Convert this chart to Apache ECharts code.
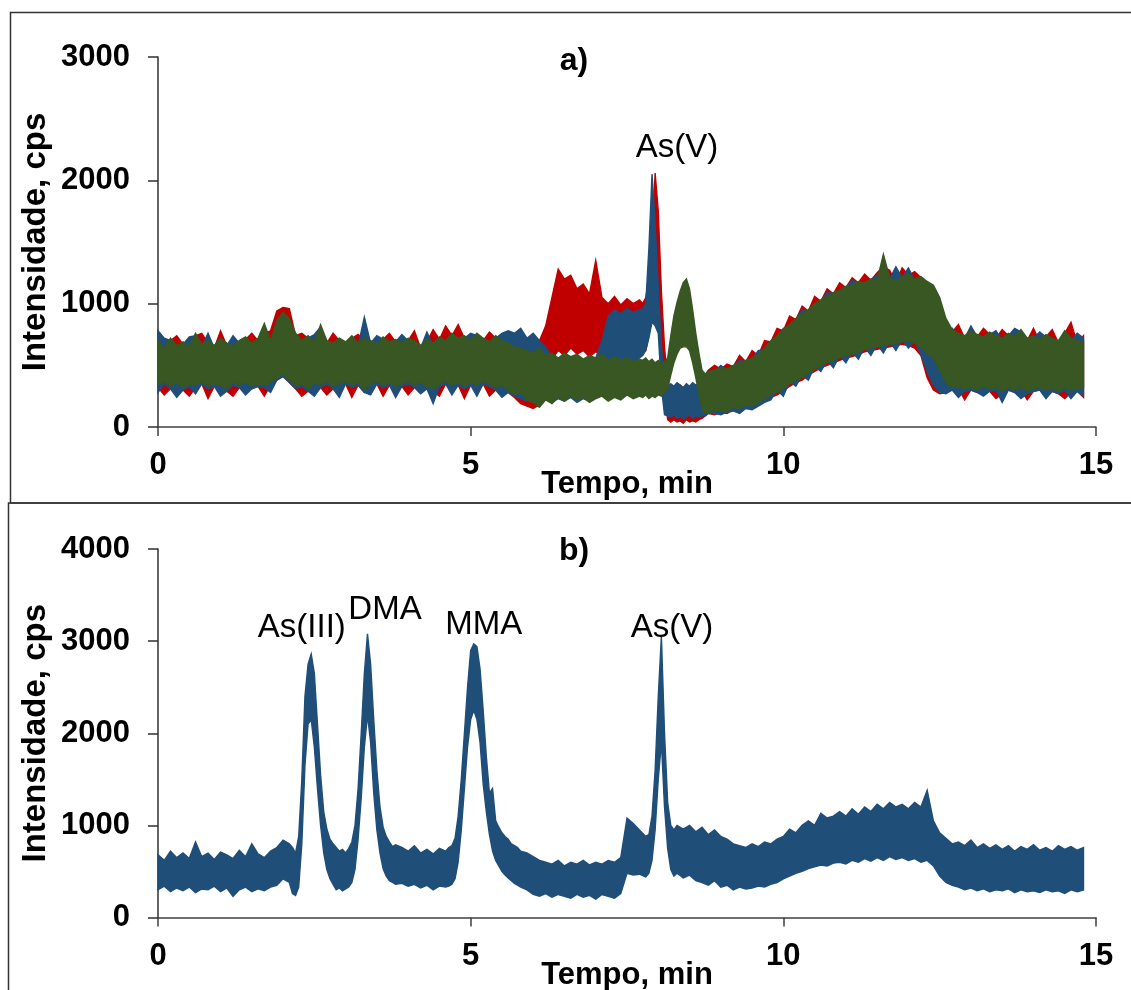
<!DOCTYPE html>
<html><head><meta charset="utf-8">
<script src="https://cdn.jsdelivr.net/npm/echarts@6/dist/echarts.min.js"></script>
<style>html,body{margin:0;padding:0;background:#fff}#c{width:1131px;height:990px}</style>
</head><body><div id="c"></div>
<script>
// ---------- Panel a) : time grid (min) ----------
const T_A = [
0,0.1,0.2,0.3,0.4,0.5,0.6,0.7,0.8,0.9,
1,1.1,1.2,1.3,1.4,1.5,1.6,1.7,1.8,1.9,
2,2.1,2.2,2.3,2.4,2.5,2.6,2.7,2.8,2.9,
3,3.1,3.2,3.3,3.4,3.5,3.6,3.7,3.8,3.9,
4,4.1,4.2,4.3,4.4,4.5,4.6,4.7,4.8,4.9,
5,5.1,5.2,5.3,5.4,5.5,5.6,5.7,5.8,5.9,
6,6.1,6.2,6.3,6.4,6.5,6.6,6.7,6.8,6.9,
7,7.1,7.2,7.3,7.4,7.5,7.6,7.7,
7.75,7.8,7.85,7.9,7.95,8,8.05,8.1,8.15,8.2,8.25,8.3,8.35,8.4,8.45,8.5,8.55,8.6,8.65,8.7,8.75,8.8,
8.9,9,9.1,9.2,9.3,9.4,9.5,9.6,9.7,9.8,
9.9,10,10.1,10.2,10.3,10.4,10.5,10.6,10.7,10.8,
10.9,11,11.1,11.2,11.3,11.4,11.5,11.6,
11.7,11.8,11.9,12,12.1,12.2,12.3,12.4,12.5,12.6,
12.7,12.8,12.9,13,13.1,13.2,13.3,13.4,13.5,13.6,
13.7,13.8,13.9,14,14.1,14.2,14.3,14.4,14.5,14.6,14.7,14.8];

// red trace: upper / lower edge of the noise band (cps)
const RED_UP = [
760,620,700,740,670,630,740,760,680,640, 780,660,630,680,710,760,700,760,780,940,
970,960,740,760,720,670,760,680,760,700, 670,720,750,700,680,650,710,760,690,660,
700,780,640,690,790,710,820,740,830,720, 680,740,700,770,720,680,660,630,620,600,
580,700,820,1050,1280,1200,1230,1120,1160,1080, 1350,1050,1000,1060,990,1040,1000,1030,
1000,1050,1200,1500,2060,1750,1100,650,350,320,330,300,340,310,330,300,340,320,350,380,420,460,
500,470,510,490,580,530,620,580,700,690, 800,780,900,870,980,940,1060,1020,1120,1080,
1170,1130,1210,1170,1240,1190,1250,1300, 1270,1170,1290,1230,1260,1210,1100,900,800,780,
770,830,720,760,730,800,750,720,790,740, 710,770,700,800,690,730,790,680,760,850,680,740];
const RED_LO = [
320,260,310,340,300,250,320,350,230,330, 320,290,250,320,350,310,330,250,340,380,
410,360,310,250,290,340,320,260,310,330, 350,240,340,280,330,350,250,340,310,330,
260,320,340,310,290,250,350,320,340,230, 340,320,350,250,300,320,280,240,190,170,
150,180,300,550,620,580,640,590,620,570, 610,580,620,590,610,600,620,600,
600,620,750,900,1150,900,600,300,60,40,60,40,50,30,60,40,50,40,60,70,90,110,
100,120,110,140,130,160,150,180,210,240, 260,290,330,360,380,420,450,480,500,520,
540,560,570,590,610,620,630,640, 650,660,670,660,640,580,400,300,270,280,
300,310,220,300,280,310,290,230,270,300, 280,300,220,290,300,280,290,270,230,280,290,240];

// blue trace
const BLUE_UP = [
780,720,700,640,670,730,740,650,760,640, 700,660,740,680,710,660,700,820,680,840,
900,860,740,680,720,750,810,680,660,700, 670,720,660,890,680,740,710,670,690,750,
700,680,640,770,660,710,680,740,700,720, 760,740,700,670,720,760,780,760,800,720,
760,700,650,560,540,570,540,560,530,560, 560,700,900,950,920,960,930,950,
960,1000,1450,2050,1650,1150,650,380,340,350,330,360,340,320,350,330,360,340,350,380,410,440,
450,500,460,490,540,530,550,620,630,690, 730,800,820,870,950,940,990,1020,1090,1080,
1100,1130,1190,1170,1160,1190,1230,1230, 1200,1300,1210,1290,1190,1180,1000,850,780,760,
800,740,720,820,730,710,750,780,700,740, 800,770,700,720,770,730,700,680,760,700,760,720];
const BLUE_LO = [
280,350,310,240,300,330,270,350,310,330, 250,290,340,320,260,310,330,320,280,380,
410,360,310,330,290,250,320,350,310,240, 350,320,340,280,260,350,320,340,240,330,
350,320,270,310,190,330,350,260,340,310, 340,250,350,330,300,240,280,250,230,210,
230,200,220,200,230,210,240,200,230,210, 240,400,520,540,520,550,530,560,
580,620,720,850,820,760,320,100,90,80,100,70,90,60,80,100,70,90,80,90,90,110,
110,100,120,130,110,150,140,170,200,220, 300,250,370,330,420,380,490,450,540,480,
580,520,610,550,650,580,670,600, 690,620,710,640,700,590,450,340,280,270,
300,240,290,300,280,250,290,300,200,300, 280,230,270,290,300,230,290,270,300,230,290,250];

// green trace
const GREEN_UP = [
700,640,720,660,690,650,760,670,700,660, 720,680,650,700,730,680,720,840,700,860,
930,880,760,700,740,690,830,700,680,720, 690,740,680,720,700,670,730,690,710,680,
720,700,660,710,680,730,700,760,720,740, 700,760,720,690,740,700,680,650,640,620,
600,640,580,600,560,600,570,590,550,580, 560,590,540,570,540,560,530,550,
540,560,530,550,520,540,510,530,560,740,900,1010,1100,1170,1200,1120,950,760,600,460,430,450,
460,480,470,500,520,540,560,590,640,700, 740,790,830,880,920,950,1000,1030,1060,1090,
1110,1140,1150,1180,1170,1200,1190,1400, 1210,1180,1220,1240,1200,1220,1180,1150,1050,880,
790,760,740,780,750,730,770,740,720,760, 730,790,720,740,710,750,720,700,780,720,700,690];
const GREEN_LO = [
340,370,330,360,320,350,340,370,330,350, 340,310,360,340,370,330,350,340,360,400,
430,380,330,350,310,360,340,370,330,350, 370,340,360,300,350,370,340,360,330,350,
370,340,360,330,310,350,370,340,360,330, 360,340,370,350,320,340,300,260,280,220,
200,160,220,190,240,210,250,220,240,200, 230,250,210,240,220,260,230,250,
240,260,230,250,240,260,250,280,310,420,520,590,640,650,650,620,520,400,270,150,110,120,
130,140,120,160,150,180,170,200,230,260, 280,310,350,380,400,440,470,500,520,540,
560,580,590,610,630,640,650,660, 670,680,690,700,680,650,600,560,460,360,
320,330,310,320,300,330,310,320,290,320, 300,320,290,310,320,300,310,290,320,300,310,320];

// ---------- Panel b) ----------
const T_B = [
0,0.1,0.2,0.3,0.4,0.5,0.6,0.7,0.8,0.9,1,1.1,1.2,1.3,1.4,1.5,1.6,1.7,1.8,1.9,2,2.1,
2.15,2.2,2.25,2.3,2.35,2.4,2.45,2.5,2.55,2.6,2.65,2.7,2.75,2.8,2.85,2.9,2.95,3,3.05,3.1,
3.15,3.2,3.25,3.3,3.35,3.4,3.45,3.5,3.55,3.6,3.65,3.7,3.75,3.8,
3.9,4,4.1,4.2,4.3,4.4,4.5,4.6,
4.65,4.7,4.75,4.8,4.85,4.9,4.95,5,5.05,5.1,5.15,5.2,5.25,5.3,5.35,5.4,5.45,5.5,5.55,5.6,5.65,5.7,5.75,5.8,
5.9,6,6.1,6.2,6.3,6.4,6.5,6.6,6.7,6.8,6.9,7,7.1,7.2,7.3,7.4,7.5,7.6,7.7,7.8,
7.85,7.9,7.95,8,8.05,8.1,8.15,8.2,8.25,8.3,
8.4,8.5,8.6,8.7,8.8,8.9,9,9.1,9.2,9.3,
9.4,9.5,9.6,9.7,9.8,9.9,10,10.1,10.2,10.3,
10.4,10.5,10.6,10.7,10.8,10.9,11,11.1,11.2,11.3,
11.4,11.5,11.6,11.7,11.8,11.9,12,12.1,12.2,12.3,
12.4,12.5,12.6,12.7,12.8,12.9,13,13.1,13.2,13.3,
13.4,13.5,13.6,13.7,13.8,13.9,14,14.1,14.2,14.3,
14.4,14.5,14.6,14.7,14.8];
const B_UP = [
680,620,720,650,700,640,820,660,700,630,710,680,640,730,660,800,690,650,720,760,840,800,
760,700,880,1500,2400,2750,2860,2650,2100,1550, 1150,960,850,800,760,720,740,700,750,820,
1000,1400,2000,2650,3080,2750,2150,1600,1200,980, 880,820,770,790,
760,720,780,700,740,690,750,720,
760,780,860,1100,1500,2000,2500,2900,2970,2940, 2700,2250,1750,1350,1400,1050,980,920,880,850, 800,780,760,720,
700,660,620,600,580,620,560,600,580,620, 570,600,580,620,600,650,1080,1020,950,880,
900,1100,1600,2400,3050,2000,1250,1000,950,1000,
960,1000,930,980,900,950,880,850,800,780,
760,800,770,820,800,850,880,960,920,1000,
1050,1000,1130,1080,1100,1150,1100,1180,1120,1200,
1150,1230,1180,1250,1200,1230,1180,1250,1200,1380,
1050,920,860,800,820,780,840,760,800,750,
790,740,780,720,770,740,790,730,760,720,
780,740,770,730,760];
const B_LO = [
300,340,280,320,290,330,270,310,300,340,280,320,230,300,330,280,310,290,330,350,420,380,
260,240,330,800,1650,2100,2150,1850,1400,1000, 700,520,420,360,300,320,290,310,330,380,
520,850,1300,1850,2200,1900,1350,950,700,530, 450,400,380,360,
370,340,360,320,350,300,340,330,
340,360,420,600,950,1400,1850,2150,2250,2150, 1900,1450,1150,900,720,620,560,500,460,430, 400,370,350,330,
300,250,230,260,220,250,230,210,250,220, 240,200,250,230,210,260,480,460,470,440,
480,620,950,1500,1900,1200,750,520,450,480,
430,460,400,380,350,400,330,350,300,330,
310,320,340,330,360,380,420,450,480,500,
530,550,570,560,590,600,580,620,600,640,
610,650,620,660,630,650,620,640,600,620,
560,450,380,350,330,300,320,290,310,280,
300,290,310,270,300,280,290,270,300,280,
290,260,300,280,300];

const X_TICK_STEP = 5;
const LABELS_A = [['As(V)', 8.3, 2260]];
const LABELS_B = [['As(III)', 2.3, 3140], ['DMA', 3.63, 3335], ['MMA', 5.21, 3172], ['As(V)', 8.22, 3140]];

const COLORS = { red: '#C00000', blue: '#1F4E79', green: '#385723' };
const FONT = '"Liberation Sans", Arial, Helvetica, sans-serif';

// each trace is drawn as a filled noise band between its lower and upper edge
function band(name, T, up, lo, color, gi) {
  if (up.length !== T.length || lo.length !== T.length)
    throw new Error(name + ': up ' + up.length + ' lo ' + lo.length + ' T ' + T.length);
  return {
    type: 'custom', name: name, coordinateSystem: 'cartesian2d', xAxisIndex: gi, yAxisIndex: gi,
    silent: true, animation: false,
    data: [[T[0], lo[0]]],
    renderItem: function (params, api) {
      const pts = [];
      for (let i = 0; i < T.length; i++) pts.push(api.coord([T[i], up[i]]));
      for (let i = T.length - 1; i >= 0; i--) pts.push(api.coord([T[i], lo[i]]));
      return { type: 'polygon', shape: { points: pts },
        style: { fill: color, stroke: color, lineWidth: 1.4, lineJoin: 'miter' } };
    }
  };
}
function labels(arr, gi) {
  return { type: 'scatter', xAxisIndex: gi, yAxisIndex: gi, symbolSize: 2, silent: true,
    itemStyle: { color: 'rgba(0,0,0,0)' }, z: 10,
    data: arr.map(a => [a[1], a[2], a[0]]),
    label: { show: true, position: 'inside', formatter: p => p.data[2], opacity: 1,
      fontSize: 33, fontFamily: FONT, color: '#000', textBorderWidth: 0 } };
}
function xAx(gi) {
  return { gridIndex: gi, type: 'value', min: 0, max: 15, interval: X_TICK_STEP,
    axisLine: { lineStyle: { color: '#404040', width: 1.5 } },
    axisTick: { length: 9, lineStyle: { color: '#404040', width: 1.5 } },
    axisLabel: { fontSize: 31, fontWeight: 'bold', color: '#000', margin: 23, fontFamily: FONT,
      formatter: v => String(v) },
    splitLine: { show: false },
    name: 'Tempo, min', nameLocation: 'middle', nameGap: 42, nameMoveOverlap: false,
    nameTextStyle: { fontSize: 31, fontWeight: 'bold', color: '#000', fontFamily: FONT } };
}
function yAx(gi, max) {
  return { gridIndex: gi, type: 'value', min: 0, max: max, interval: 1000,
    axisLine: { show: true, lineStyle: { color: '#303030', width: 1.5 } },
    axisTick: { show: true, length: 10, lineStyle: { color: '#303030', width: 1.5 } },
    axisLabel: { fontSize: 31, fontWeight: 'bold', color: '#000', margin: 28, fontFamily: FONT,
      formatter: v => String(v) },
    splitLine: { show: false },
    name: 'Intensidade, cps', nameLocation: 'middle', nameGap: 106, nameRotate: 90, nameMoveOverlap: false,
    nameTextStyle: { fontSize: 33, fontWeight: 'bold', color: '#000', fontFamily: FONT } };
}

const chart = echarts.init(document.getElementById('c'), null, { renderer: 'canvas' });
chart.setOption({
  animation: false,
  backgroundColor: '#fff',
  grid: [
    { left: 158, right: 35, top: 57, height: 370, outerBoundsMode: 'none' },
    { left: 158, right: 35, top: 549, height: 368.5, outerBoundsMode: 'none' }
  ],
  xAxis: [xAx(0), xAx(1)],
  yAxis: [yAx(0, 3000), yAx(1, 4000)],
  series: [
    band('red', T_A, RED_UP, RED_LO, COLORS.red, 0),
    band('blue', T_A, BLUE_UP, BLUE_LO, COLORS.blue, 0),
    band('green', T_A, GREEN_UP, GREEN_LO, COLORS.green, 0),
    band('b', T_B, B_UP, B_LO, COLORS.blue, 1),
    labels(LABELS_A, 0), labels(LABELS_B, 1)
  ],
  graphic: [
    { type: 'rect', silent: true, shape: { x: 10.5, y: 12.5, width: 1130, height: 490.5 },
      style: { fill: 'none', stroke: '#333', lineWidth: 1.5 } },
    { type: 'rect', silent: true, shape: { x: 8.5, y: 503, width: 1130, height: 500 },
      style: { fill: 'none', stroke: '#333', lineWidth: 1.5 } },
    { type: 'text', x: 574, y: 61, silent: true,
      style: { text: 'a)', font: 'bold 32px ' + FONT, fill: '#000', align: 'center', verticalAlign: 'middle' } },
    { type: 'text', x: 574, y: 551, silent: true,
      style: { text: 'b)', font: 'bold 32px ' + FONT, fill: '#000', align: 'center', verticalAlign: 'middle' } }
  ]
});
</script></body></html>
